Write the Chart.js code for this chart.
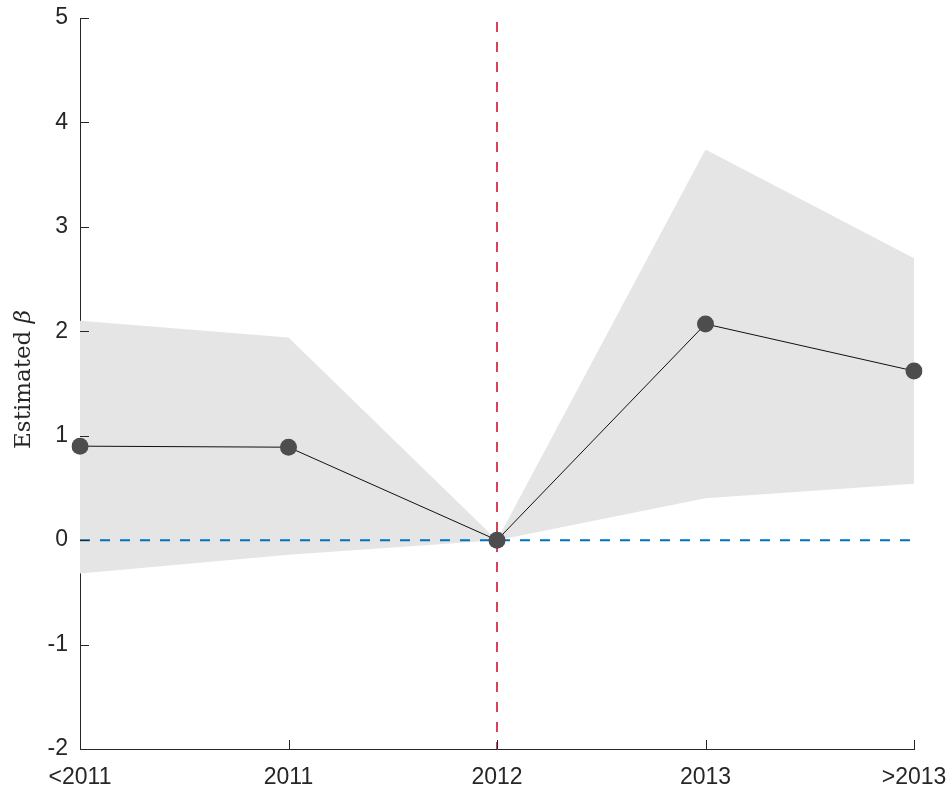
<!DOCTYPE html>
<html>
<head>
<meta charset="utf-8">
<script src="https://cdn.jsdelivr.net/npm/chart.js@4/dist/chart.umd.min.js"></script>
<style>
  html, body { margin: 0; padding: 0; background: #fff; }
  #wrap { width: 951px; height: 789px; }
</style>
</head>
<body>
<div id="wrap"><canvas id="eventChart"></canvas></div>
<script>
// data
const periods = ["<2011", "2011", "2012", "2013", ">2013"];
const estimates = [0.90, 0.89, 0.0, 2.07, 1.62];
const upperCI = [2.10, 1.94, 0.0, 3.74, 2.70];
const lowerCI = [-0.32, -0.14, 0.0, 0.40, 0.54];
const zeroLine = [0, 0, 0, 0, 0];
const eventPeriod = "2012";
const yTicks = [-2, -1, 0, 1, 2, 3, 4, 5];

const axisColor = "#262626";
const tickFont = { family: "'Liberation Sans', Arial, sans-serif", size: 23 };
const serif = "'DejaVu Serif', 'Liberation Serif', serif";

/* red event line, inward ticks and the y label */
const extras = {
    id: "extras",
    afterDatasetDraw(chart, args) {
        if (args.index !== 2) return;
        const ctx = chart.ctx;
        const area = chart.chartArea;
        const px = chart.scales.x.getPixelForValue(periods.indexOf(eventPeriod));
        ctx.save();
        ctx.strokeStyle = "#d8405c";
        ctx.lineWidth = 2;
        ctx.setLineDash([10, 10]);
        ctx.lineDashOffset = -4;
        ctx.beginPath();
        ctx.moveTo(px, area.top);
        ctx.lineTo(px, area.bottom);
        ctx.stroke();
        ctx.restore();
    },
    afterDraw(chart) {
        const ctx = chart.ctx;
        const x = chart.scales.x;
        const y = chart.scales.y;
        const area = chart.chartArea;
        ctx.save();
        ctx.strokeStyle = axisColor;
        ctx.lineWidth = 1;
        periods.forEach((p, i) => {
            if (i === 0) return;
            const px = Math.round(x.getPixelForValue(i)) + 0.5;
            ctx.beginPath();
            ctx.moveTo(px, area.bottom);
            ctx.lineTo(px, area.bottom - 9);
            ctx.stroke();
        });
        yTicks.forEach((v, i) => {
            if (i === 0) return;
            const py = Math.round(y.getPixelForValue(v)) + 0.5;
            ctx.beginPath();
            ctx.moveTo(area.left, py);
            ctx.lineTo(area.left + 9, py);
            ctx.stroke();
        });
        // y label, rotated
        ctx.translate(30, (area.top + area.bottom) / 2 - 4);
        ctx.rotate(-Math.PI / 2);
        ctx.fillStyle = axisColor;
        ctx.textBaseline = "alphabetic";
        ctx.font = "23px " + serif;
        const w1 = ctx.measureText("Estimated ").width;
        ctx.font = "italic 23px " + serif;
        const w2 = ctx.measureText("β").width;
        const start = -(w1 + w2) / 2;
        ctx.font = "23px " + serif;
        ctx.fillText("Estimated ", start, 0);
        ctx.font = "italic 23px " + serif;
        ctx.fillText("β", start + w1, 0);
        ctx.restore();
    }
};

new Chart(document.getElementById("eventChart"), {
    type: "line",
    data: {
        labels: periods,
        datasets: [
            {
                data: upperCI,
                borderWidth: 0,
                pointRadius: 0,
                backgroundColor: "#e5e5e5",
                fill: "+1",
                order: 4
            },
            {
                data: lowerCI,
                borderWidth: 0,
                pointRadius: 0,
                backgroundColor: "#e5e5e5",
                fill: false,
                order: 4
            },
            {
                data: zeroLine,
                borderColor: "#0072bd",
                borderWidth: 2,
                borderDash: [10, 10],
                pointRadius: 0,
                fill: false,
                order: 3
            },
            {
                data: estimates,
                borderColor: "#111",
                borderWidth: 1,
                pointRadius: 8.5,
                pointBackgroundColor: "#4d4d4d",
                pointBorderWidth: 0,
                pointHoverRadius: 8.5,
                fill: false,
                order: 1
            }
        ]
    },
    options: {
        responsive: true,
        maintainAspectRatio: false,
        animation: false,
        events: [],
        layout: { padding: { top: 18, right: 37, left: 0, bottom: 0 } },
        plugins: { legend: { display: false }, tooltip: { enabled: false } },
        scales: {
            x: {
                offset: false,
                grid: { display: false, drawTicks: false },
                border: { display: true, color: axisColor, width: 1 },
                ticks: { color: axisColor, font: tickFont, padding: 15, maxRotation: 0, autoSkip: false },
                afterFit(scale) {
                    scale.height = 40;
                    scale.paddingLeft = 0;
                    scale.paddingRight = 0;
                }
            },
            y: {
                min: -2,
                max: 5,
                afterBuildTicks(scale) { scale.ticks = yTicks.map(v => ({ value: v })); },
                grid: { display: false, drawTicks: false },
                border: { display: true, color: axisColor, width: 1 },
                ticks: { color: axisColor, font: tickFont, padding: 12 },
                afterFit(scale) {
                    scale.width = 80;
                    scale.paddingTop = 0;
                    scale.paddingBottom = 0;
                }
            }
        }
    },
    plugins: [extras]
});
</script>
</body>
</html>
